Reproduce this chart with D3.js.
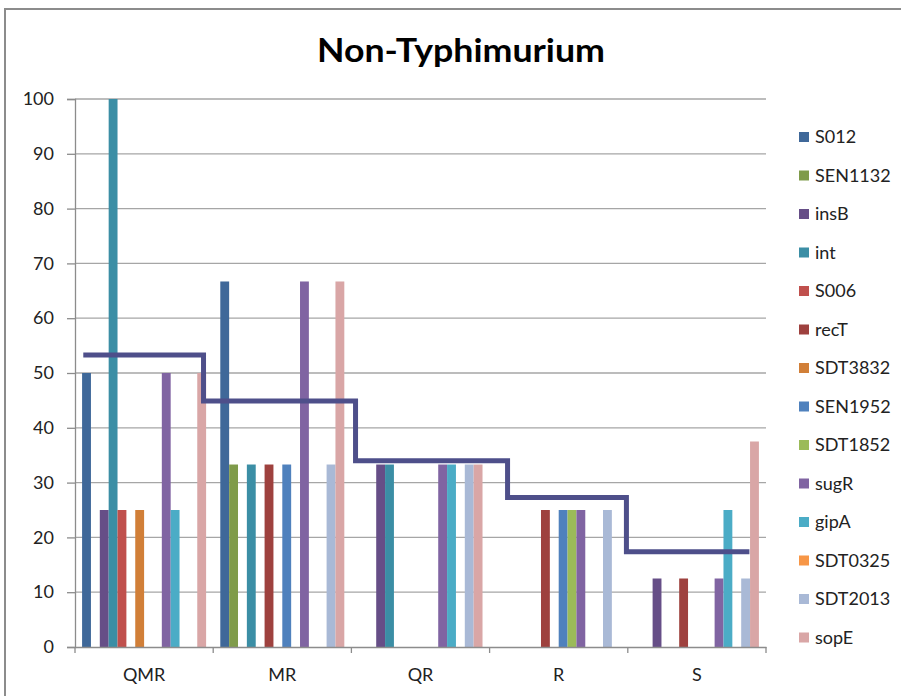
<!DOCTYPE html>
<html>
<head>
<meta charset="utf-8">
<script src="https://cdn.jsdelivr.net/npm/d3@7"></script>
<style>
  body { margin: 0; background: #fff; }
  svg text { font-family: Lato, "DejaVu Sans", sans-serif; }
</style>
</head>
<body>
<div id="chart"></div>
<script>
// Categories and series
const categories = ["QMR", "MR", "QR", "R", "S"];
const seriesNames = ["S012", "SEN1132", "insB", "int", "S006", "recT", "SDT3832",
  "SEN1952", "SDT1852", "sugR", "gipA", "SDT0325", "SDT2013", "sopE"];

// Values per series, one per category (QMR, MR, QR, R, S)
const S012 = [50, 66.7, 0, 0, 0];
const SEN1132 = [0, 33.3, 0, 0, 0];
const insB = [25, 0, 33.3, 0, 12.5];
const int = [100, 33.3, 33.3, 0, 0];
const S006 = [25, 0, 0, 0, 0];
const recT = [0, 33.3, 0, 25, 12.5];
const SDT3832 = [25, 0, 0, 0, 0];
const SEN1952 = [0, 33.3, 0, 25, 0];
const SDT1852 = [0, 0, 0, 25, 0];
const sugR = [50, 66.7, 33.3, 25, 12.5];
const gipA = [25, 0, 33.3, 0, 25];
const SDT0325 = [0, 0, 0, 0, 0];
const SDT2013 = [0, 33.3, 33.3, 25, 12.5];
const sopE = [50, 66.7, 33.3, 0, 37.5];
const seriesValues = [S012, SEN1132, insB, int, S006, recT, SDT3832,
  SEN1952, SDT1852, sugR, gipA, SDT0325, SDT2013, sopE];

// Overlay step line: level per category, edges in category units
const stepLevels = [53.3, 44.9, 34.0, 27.3, 17.4];
const stepEdges = [0.06, 0.93, 2.03, 3.13, 3.99, 4.88];

const yTicks = [0, 10, 20, 30, 40, 50, 60, 70, 80, 90, 100];

const colors = ["#3F6899", "#7F9B4A", "#664E87", "#3B8EA5", "#C0504D", "#9E413E",
  "#D17F38", "#4F81BD", "#9BBB59", "#8064A2", "#4BACC6", "#F79646", "#A9B9D6", "#D9A6A6"];

const width = 901;
const height = 696;
const plot = { left: 75, right: 766, top: 99, bottom: 647 };

const svg = d3.select("#chart").append("svg")
  .attr("width", width)
  .attr("height", height);

// Chart border
svg.append("rect")
  .attr("x", 5).attr("y", 9)
  .attr("width", width).attr("height", height)
  .attr("fill", "none")
  .attr("stroke", "#8c8c8c")
  .attr("stroke-width", 2);

// Title
svg.append("text")
  .attr("x", 461).attr("y", 62)
  .attr("text-anchor", "middle")
  .attr("font-size", 33)
  .attr("font-weight", "bold")
  .attr("fill", "#000")
  .attr("textLength", 288)
  .attr("lengthAdjust", "spacingAndGlyphs")
  .text("Non-Typhimurium");

// Scales
const x0 = d3.scaleBand().domain(categories).range([plot.left, plot.right]);
const x1 = d3.scaleBand().domain(seriesNames)
  .range([0, x0.bandwidth()]).paddingInner(0).paddingOuter(0.8);
const y = d3.scaleLinear().domain([0, 100]).range([plot.bottom, plot.top]);
const xc = d3.scaleLinear().domain([0, categories.length]).range([plot.left, plot.right]);
const color = d3.scaleOrdinal().domain(seriesNames).range(colors);

// Gridlines
svg.append("g")
  .selectAll("line")
  .data(yTicks.filter((d) => d > 0))
  .join("line")
  .attr("x1", plot.left).attr("x2", plot.right)
  .attr("y1", (d) => y(d)).attr("y2", (d) => y(d))
  .attr("stroke", "#a6a6a6")
  .attr("stroke-width", 1.3);

// Y axis
const yAxis = svg.append("g")
  .attr("transform", `translate(${plot.left},0)`)
  .call(d3.axisLeft(y).tickValues(yTicks).tickSize(8).tickPadding(13));
yAxis.select(".domain").attr("stroke", "#8c8c8c").attr("stroke-width", 1.3);
yAxis.selectAll(".tick line").attr("stroke", "#8c8c8c").attr("stroke-width", 1.3);
yAxis.selectAll(".tick text").attr("font-size", 18).attr("fill", "#222")
  .attr("font-family", "Lato, sans-serif");

// Bars
const table = categories.map((c, ci) => ({
  category: c,
  values: seriesNames.map((s, si) => ({ series: s, value: seriesValues[si][ci] }))
}));

svg.append("g")
  .selectAll("g")
  .data(table)
  .join("g")
  .attr("transform", (d) => `translate(${x0(d.category)},0)`)
  .selectAll("rect")
  .data((d) => d.values.filter((v) => v.value > 0))
  .join("rect")
  .attr("x", (d) => x1(d.series))
  .attr("y", (d) => y(d.value))
  .attr("width", x1.bandwidth())
  .attr("height", (d) => y(0) - y(d.value))
  .attr("fill", (d) => color(d.series));

// X axis
const xAxis = svg.append("g")
  .attr("transform", `translate(0,${plot.bottom})`)
  .call(d3.axisBottom(x0).tickSize(0).tickPadding(21));
xAxis.select(".domain").attr("stroke", "#8c8c8c").attr("stroke-width", 1.3);
xAxis.selectAll(".tick text").attr("font-size", 18).attr("fill", "#222")
  .attr("font-family", "Lato, sans-serif");
svg.append("g")
  .selectAll("line")
  .data(d3.range(categories.length + 1))
  .join("line")
  .attr("x1", (d) => xc(d)).attr("x2", (d) => xc(d))
  .attr("y1", plot.bottom).attr("y2", plot.bottom + 6)
  .attr("stroke", "#8c8c8c")
  .attr("stroke-width", 1.3);

// Step line overlay
const stepPoints = [];
stepLevels.forEach((lvl, i) => {
  stepPoints.push([xc(stepEdges[i]), y(lvl)]);
  stepPoints.push([xc(stepEdges[i + 1]), y(lvl)]);
});
svg.append("path")
  .attr("d", d3.line()(stepPoints))
  .attr("fill", "none")
  .attr("stroke", "#4E4F8A")
  .attr("stroke-width", 5);

// Legend
const legend = svg.append("g")
  .selectAll("g")
  .data(seriesNames)
  .join("g")
  .attr("transform", (d, i) => `translate(799,${137 + i * 38.5})`);
legend.append("rect")
  .attr("x", 0).attr("y", -5)
  .attr("width", 10).attr("height", 10)
  .attr("fill", (d) => color(d));
legend.append("text")
  .attr("x", 16).attr("y", 0)
  .attr("dy", "0.36em")
  .attr("font-size", 18)
  .attr("fill", "#222")
  .text((d) => d);
</script>
</body>
</html>
